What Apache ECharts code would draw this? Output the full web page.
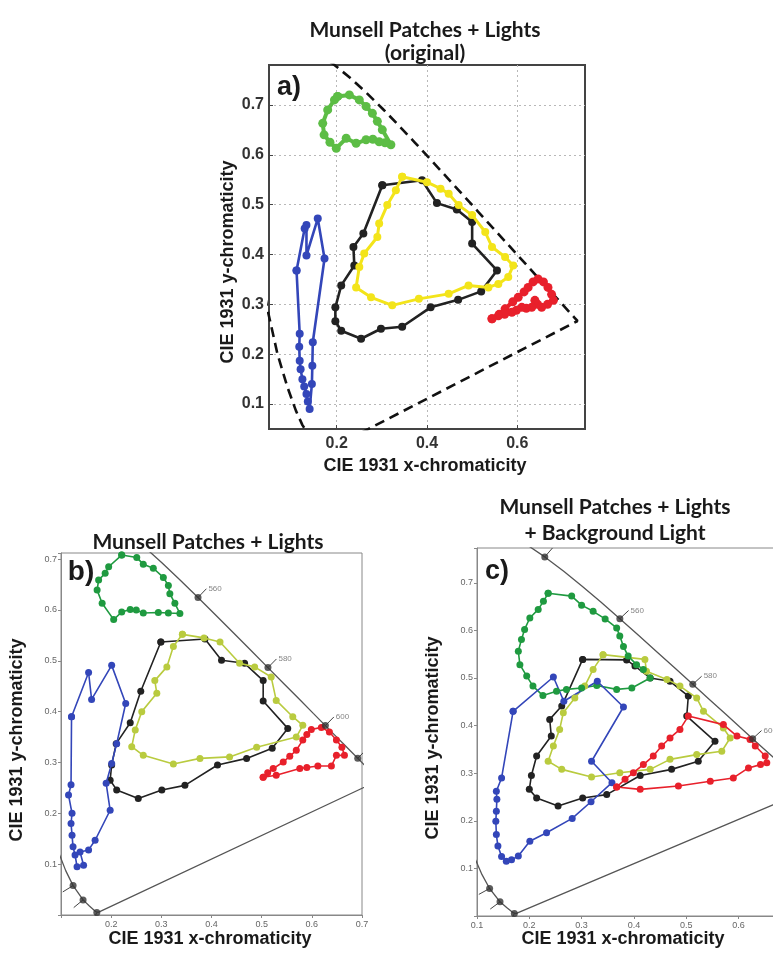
<!DOCTYPE html>
<html><head><meta charset="utf-8">
<script src="https://cdn.jsdelivr.net/npm/echarts@6/dist/echarts.min.js"></script>
<style>html,body{margin:0;padding:0;background:#fff;overflow:hidden}#chart{width:830px;height:958px}</style>
</head><body><div id="chart"></div>
<script>
// CIE 1931 spectral locus (wavelength nm, x, y)
const locusNm = [380,400,420,430,440,450,460,470,475,480,485,490,495,500,505,510,515,520,525,530,535,540,545,550,555,560,565,570,575,580,585,590,595,600,605,610,615,620,630,640,650,660,680,700];
const locusX = [0.1741,0.1733,0.1714,0.1689,0.1644,0.1566,0.1440,0.1241,0.1096,0.0913,0.0687,0.0454,0.0235,0.0082,0.0039,0.0139,0.0389,0.0743,0.1142,0.1547,0.1929,0.2296,0.2658,0.3016,0.3373,0.3731,0.4087,0.4441,0.4788,0.5125,0.5448,0.5752,0.6029,0.6270,0.6482,0.6658,0.6801,0.6915,0.7079,0.7190,0.7260,0.7300,0.7334,0.7347];
const locusY = [0.0050,0.0048,0.0051,0.0069,0.0109,0.0177,0.0297,0.0578,0.0868,0.1327,0.2007,0.2950,0.4127,0.5384,0.6548,0.7502,0.8120,0.8338,0.8262,0.8059,0.7816,0.7543,0.7243,0.6923,0.6589,0.6245,0.5896,0.5547,0.5202,0.4866,0.4544,0.4242,0.3965,0.3725,0.3514,0.3340,0.3197,0.3083,0.2920,0.2809,0.2740,0.2700,0.2666,0.2653];
const markersB = [420,460,470,560,580,600,620];
const markersC = [420,460,470,540,560,580,600,620];
const labeledNm = [560,580,600];

// Panel a (original)
const aGreen = [[0.202,0.717],[0.228,0.720],[0.250,0.710],[0.265,0.697],[0.279,0.683],[0.290,0.667],[0.301,0.650],[0.320,0.620],[0.307,0.624],[0.294,0.626],[0.280,0.631],[0.265,0.630],[0.243,0.623],[0.221,0.633],[0.199,0.613],[0.185,0.625],[0.172,0.640],[0.169,0.663],[0.180,0.690],[0.195,0.710]];
const aBlack = [[0.301,0.539],[0.389,0.549],[0.422,0.503],[0.466,0.490],[0.500,0.465],[0.500,0.422],[0.555,0.368],[0.520,0.326],[0.469,0.309],[0.408,0.294],[0.345,0.255],[0.298,0.251],[0.254,0.231],[0.210,0.247],[0.197,0.266],[0.197,0.294],[0.210,0.338],[0.239,0.378],[0.237,0.415],[0.259,0.442]];
const aYellow = [[0.345,0.556],[0.400,0.545],[0.430,0.532],[0.448,0.522],[0.470,0.499],[0.500,0.479],[0.529,0.445],[0.544,0.415],[0.573,0.395],[0.591,0.378],[0.580,0.355],[0.558,0.341],[0.536,0.334],[0.492,0.338],[0.448,0.321],[0.382,0.311],[0.323,0.298],[0.276,0.314],[0.243,0.334],[0.250,0.375],[0.261,0.402],[0.290,0.435],[0.294,0.462],[0.312,0.499],[0.331,0.529]];
const aBlue = [[0.111,0.368],[0.129,0.452],[0.133,0.459],[0.133,0.398],[0.158,0.472],[0.173,0.392],[0.147,0.224],[0.146,0.177],[0.145,0.140],[0.140,0.090],[0.136,0.105],[0.133,0.120],[0.128,0.135],[0.124,0.150],[0.120,0.170],[0.118,0.187],[0.117,0.215],[0.118,0.241]];
const aRed = [[0.544,0.271],[0.560,0.280],[0.573,0.291],[0.590,0.305],[0.602,0.314],[0.615,0.325],[0.624,0.334],[0.635,0.345],[0.646,0.351],[0.658,0.345],[0.668,0.334],[0.676,0.320],[0.680,0.308],[0.667,0.300],[0.654,0.294],[0.645,0.300],[0.639,0.308],[0.632,0.294],[0.620,0.292],[0.610,0.294],[0.598,0.288],[0.588,0.284],[0.572,0.280],[0.558,0.277]];

// Panel b (patches + lights)
const bGreen = [[0.221,0.708],[0.251,0.703],[0.264,0.690],[0.284,0.682],[0.304,0.664],[0.314,0.648],[0.317,0.632],[0.327,0.613],[0.337,0.593],[0.314,0.594],[0.294,0.595],[0.264,0.594],[0.250,0.600],[0.238,0.601],[0.221,0.596],[0.205,0.581],[0.182,0.613],[0.172,0.639],[0.175,0.659],[0.188,0.672],[0.195,0.685]];
const bBlack = [[0.299,0.537],[0.387,0.543],[0.420,0.501],[0.466,0.495],[0.503,0.461],[0.503,0.421],[0.552,0.367],[0.521,0.328],[0.470,0.308],[0.412,0.295],[0.347,0.255],[0.301,0.246],[0.254,0.229],[0.211,0.246],[0.198,0.265],[0.201,0.295],[0.210,0.337],[0.238,0.378],[0.259,0.440]];
const bYellow = [[0.342,0.552],[0.385,0.545],[0.417,0.537],[0.456,0.495],[0.486,0.488],[0.519,0.468],[0.529,0.422],[0.562,0.390],[0.582,0.373],[0.569,0.350],[0.490,0.330],[0.436,0.311],[0.377,0.308],[0.324,0.297],[0.264,0.314],[0.241,0.331],[0.248,0.364],[0.261,0.400],[0.291,0.436],[0.287,0.461],[0.311,0.488],[0.324,0.528]];
const bBlue = [[0.121,0.390],[0.155,0.477],[0.161,0.424],[0.201,0.491],[0.229,0.416],[0.211,0.337],[0.201,0.298],[0.190,0.259],[0.198,0.206],[0.168,0.147],[0.155,0.128],[0.138,0.124],[0.145,0.098],[0.132,0.095],[0.128,0.118],[0.124,0.134],[0.122,0.157],[0.120,0.180],[0.122,0.200],[0.115,0.236],[0.120,0.256]];
const bRed = [[0.503,0.271],[0.512,0.280],[0.523,0.288],[0.543,0.301],[0.556,0.312],[0.569,0.324],[0.582,0.344],[0.590,0.355],[0.599,0.365],[0.619,0.369],[0.635,0.360],[0.649,0.344],[0.660,0.330],[0.665,0.314],[0.649,0.314],[0.639,0.293],[0.612,0.293],[0.590,0.290],[0.576,0.288],[0.529,0.275]];

// Panel c (patches + lights + background light)
const cGreen = [[0.236,0.678],[0.281,0.672],[0.300,0.653],[0.322,0.640],[0.345,0.624],[0.367,0.605],[0.373,0.588],[0.380,0.566],[0.389,0.546],[0.405,0.528],[0.418,0.518],[0.431,0.500],[0.396,0.479],[0.367,0.476],[0.329,0.484],[0.300,0.479],[0.271,0.476],[0.252,0.472],[0.226,0.463],[0.207,0.483],[0.195,0.504],[0.182,0.528],[0.179,0.556],[0.185,0.581],[0.191,0.602],[0.201,0.626],[0.217,0.644],[0.227,0.661]];
const cBlack = [[0.302,0.539],[0.386,0.538],[0.402,0.525],[0.431,0.500],[0.469,0.493],[0.504,0.462],[0.501,0.420],[0.555,0.367],[0.523,0.325],[0.472,0.308],[0.412,0.295],[0.348,0.255],[0.302,0.248],[0.255,0.231],[0.214,0.248],[0.200,0.266],[0.204,0.295],[0.214,0.336],[0.242,0.378],[0.239,0.413],[0.262,0.441]];
const cYellow = [[0.341,0.549],[0.421,0.539],[0.424,0.514],[0.463,0.497],[0.488,0.483],[0.520,0.458],[0.533,0.430],[0.571,0.395],[0.584,0.374],[0.568,0.346],[0.520,0.339],[0.469,0.329],[0.431,0.308],[0.373,0.301],[0.319,0.292],[0.262,0.308],[0.236,0.325],[0.246,0.357],[0.258,0.392],[0.265,0.427],[0.287,0.458],[0.306,0.483],[0.322,0.518]];
const cBlue = [[0.169,0.430],[0.246,0.502],[0.266,0.451],[0.330,0.493],[0.380,0.439],[0.319,0.325],[0.358,0.280],[0.318,0.240],[0.282,0.205],[0.233,0.175],[0.201,0.157],[0.179,0.126],[0.166,0.118],[0.156,0.115],[0.147,0.125],[0.140,0.147],[0.137,0.171],[0.136,0.199],[0.137,0.220],[0.138,0.245],[0.137,0.262],[0.147,0.290]];
const cRed = [[0.367,0.271],[0.412,0.266],[0.485,0.273],[0.546,0.283],[0.590,0.290],[0.619,0.311],[0.642,0.318],[0.654,0.322],[0.651,0.336],[0.632,0.357],[0.622,0.371],[0.597,0.378],[0.571,0.402],[0.504,0.420],[0.488,0.392],[0.469,0.374],[0.453,0.357],[0.437,0.336],[0.418,0.318],[0.399,0.301],[0.383,0.287]];

const aXTicks = [0.2,0.4,0.6];
const aYTicks = [0.1,0.2,0.3,0.4,0.5,0.6,0.7];

// ---------- build ----------
const close = d => d.concat([d[0]]);
const locusPts = locusX.map((x,i)=>[x,locusY[i]]);
const locusLoop = close(locusPts);
const locusAt = nm => locusNm.indexOf(nm);
function tickFor(nm, len){
  const i = locusAt(nm);
  const p = locusPts[i], a = locusPts[Math.max(0,i-1)], b = locusPts[Math.min(locusPts.length-1,i+1)];
  const tx = b[0]-a[0], ty = b[1]-a[1], L = Math.hypot(tx,ty);
  return [p, [p[0]-ty/L*len, p[1]+tx/L*len]];
}

const cols = {
  aGreen:'#5cbd45', aYellow:'#f3e41a', blue:'#3346b9', black:'#222222', red:'#e8202b',
  bGreen:'#1f9a40', bYellow:'#b9cb3f'
};

function loop(data, gi, color, lw, ss, z){
  return {type:'line', xAxisIndex:gi, yAxisIndex:gi, data:close(data), symbol:'circle',
    symbolSize:ss, showSymbol:true, lineStyle:{color, width:lw}, itemStyle:{color},
    z, clip:true, silent:true};
}
function locusSeries(gi, dashed){
  return {type:'line', xAxisIndex:gi, yAxisIndex:gi, data:locusLoop, symbol:'none', clip:true, z:1,
    lineStyle: dashed ? {color:'#111', width:2.6, type:[10,6]} : {color:'#555', width:1.3}};
}
function markerSeries(gi, list){
  return [
    {type:'scatter', xAxisIndex:gi, yAxisIndex:gi, data:list.map(nm=>locusPts[locusAt(nm)]),
      symbolSize:7, itemStyle:{color:'#333'}, z:6},
    {type:'lines', coordinateSystem:'cartesian2d', xAxisIndex:gi, yAxisIndex:gi, z:6,
      data:list.map(nm=>({coords:tickFor(nm,0.024)})), lineStyle:{color:'#444', width:1, opacity:1}},
    {type:'scatter', xAxisIndex:gi, yAxisIndex:gi, symbolSize:0, z:6,
      data:labeledNm.filter(nm=>list.includes(nm)).map(nm=>{const t=tickFor(nm,0.024)[1]; return [t[0],t[1],nm];}),
      label:{show:true, position:'right', distance:2, formatter:p=>String(p.value[2]), fontSize:8, color:'#666', fontFamily:'Liberation Sans'}}
  ];
}

const fmtFrom = lo => v => (v>lo && Math.abs(v*10-Math.round(v*10))<1e-6) ? v.toFixed(1) : '';

const smallAxis = (gi, min, max, isX, lo) => ({
  type:'value', gridIndex:gi, min, max, interval:0.1,
  axisLine:{show:true, lineStyle:{color:'#888', width:1}},
  axisTick:{show:true, inside:false, length:3, lineStyle:{color:'#888'}},
  axisLabel:{formatter:fmtFrom(lo), fontSize:9, color:'#666', margin:isX?5:4, fontFamily:'Liberation Sans'},
  splitLine:{show:false}
});

const T = (x,y,text,font,rot) => ({type:'text', x, y, rotation:rot||0,
  style:{text, font, fill:'#1a1a1a', align:'center', verticalAlign:'middle'}});
const titleFont = 'bold 21px Lato';
const nameFont = 'bold 18px "Liberation Sans"';

const option = {
  animation:false,
  backgroundColor:'#fff',
  grid:[
    {left:269, top:65, width:316, height:364, show:true, borderColor:'#444', borderWidth:2, backgroundColor:'transparent'},
    {left:61, top:553, width:301, height:362, show:true, borderColor:'#888', borderWidth:1},
    {left:477, top:548, width:340, height:368, show:true, borderColor:'#888', borderWidth:1}
  ],
  xAxis:[
    {type:'value', gridIndex:0, min:0.05, max:0.75,
      axisLine:{show:true, lineStyle:{color:'#444', width:2}},
      axisTick:{show:true, inside:true, length:4, customValues:aXTicks, lineStyle:{color:'#444'}},
      axisLabel:{customValues:aXTicks, formatter:v=>v.toFixed(1), fontSize:16, fontWeight:'bold', color:'#333', margin:7, fontFamily:'Liberation Sans'},
      splitLine:{show:true, lineStyle:{type:[2,3], color:'#b8b8b8', width:1}}},
    smallAxis(1, 0.1, 0.7, true, 0.15),
    smallAxis(2, 0.1, 0.75, true, 0.05)
  ],
  yAxis:[
    {type:'value', gridIndex:0, min:0.05, max:0.78,
      axisLine:{show:true, lineStyle:{color:'#444', width:2}},
      axisTick:{show:true, inside:true, length:4, customValues:aYTicks, lineStyle:{color:'#444'}},
      axisLabel:{customValues:aYTicks, formatter:v=>v.toFixed(1), fontSize:16, fontWeight:'bold', color:'#333', margin:5, fontFamily:'Liberation Sans'},
      splitLine:{show:true, lineStyle:{type:[2,3], color:'#b8b8b8', width:1}}},
    smallAxis(1, 0, 0.712, false, 0.05),
    smallAxis(2, 0, 0.773, false, 0.05)
  ],
  series:[
    locusSeries(0, true),
    loop(aBlack,0,cols.black,2.6,8,3),
    loop(aYellow,0,cols.aYellow,3,8,4),
    loop(aGreen,0,cols.aGreen,4,9,4),
    loop(aBlue,0,cols.blue,2.6,8,4),
    loop(aRed,0,cols.red,4,9,5),

    locusSeries(1, false),
    loop(bBlack,1,cols.black,1.6,7,3),
    loop(bYellow,1,cols.bYellow,1.6,7,4),
    loop(bGreen,1,cols.bGreen,1.6,7,4),
    loop(bBlue,1,cols.blue,1.6,7,4),
    loop(bRed,1,cols.red,1.6,7,5),
    ...markerSeries(1, markersB),

    locusSeries(2, false),
    loop(cBlack,2,cols.black,1.6,7,3),
    loop(cYellow,2,cols.bYellow,1.6,7,4),
    loop(cGreen,2,cols.bGreen,1.6,7,4),
    loop(cBlue,2,cols.blue,1.6,7,4),
    loop(cRed,2,cols.red,1.6,7,5),
    ...markerSeries(2, markersC)
  ],
  graphic:[
    T(425,30,'Munsell Patches + Lights',titleFont),
    T(425,53,'(original)',titleFont),
    T(289,88,'a)','bold 27px "Liberation Sans"'),
    T(425,466,'CIE 1931 x-chromaticity',nameFont),
    T(228,262,'CIE 1931 y-chromaticity',nameFont,Math.PI/2),

    T(208,542,'Munsell Patches + Lights',titleFont),
    T(81,572,'b)','bold 28px "Liberation Sans"'),
    T(210,939,'CIE 1931 x-chromaticity',nameFont),
    T(17,740,'CIE 1931 y-chromaticity',nameFont,Math.PI/2),

    T(615,507,'Munsell Patches + Lights',titleFont),
    T(615,533,'+ Background Light',titleFont),
    T(497,572,'c)','bold 27px "Liberation Sans"'),
    T(623,939,'CIE 1931 x-chromaticity',nameFont),
    T(433,738,'CIE 1931 y-chromaticity',nameFont,Math.PI/2)
  ]
};
const chart = echarts.init(document.getElementById('chart'), null, {renderer:'canvas'});
chart.setOption(option);
</script>
</body></html>
